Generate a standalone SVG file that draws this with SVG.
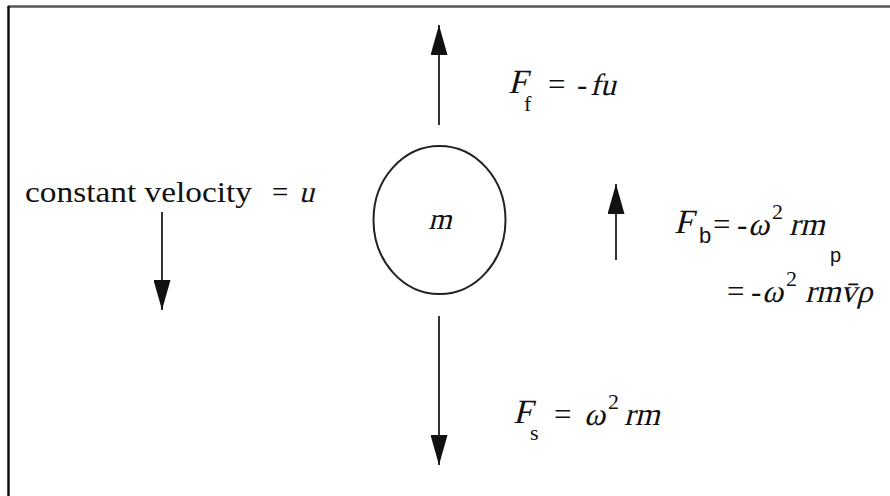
<svg xmlns="http://www.w3.org/2000/svg" width="890" height="496" viewBox="0 0 890 496">
<style>
  .t { font-family: "Liberation Serif", "Times New Roman", serif; fill: #111; }
  .sub { font-family: "Liberation Sans", Arial, sans-serif; fill: #111; }
  .ln { stroke: #333; stroke-width: 2; fill: none; }
</style>
<defs>
  <marker id="ah" markerUnits="userSpaceOnUse" viewBox="0 0 30 17" refX="30" refY="8.5" markerWidth="30" markerHeight="17" orient="auto">
    <path d="M0,0 L30,8.5 L0,17 Z" fill="#111"/>
  </marker>
</defs>
<rect width="890" height="496" fill="#fff"/>
<g id="frame">
  <line x1="8" y1="6.5" x2="890" y2="6.5" stroke="#555" stroke-width="2.5"/>
  <line x1="8.5" y1="6" x2="8.5" y2="496" stroke="#111" stroke-width="2.5"/>
</g>
<g id="mass">
  <ellipse cx="439.5" cy="220" rx="66" ry="74" fill="none" stroke="#222" stroke-width="2"/>
  <text class="t" transform="translate(440,229) skewX(-14)" font-size="30" text-anchor="middle">m</text>
</g>
<g id="connectors">
  <line class="ln" x1="439" y1="125" x2="439" y2="25" marker-end="url(#ah)"/>
  <line class="ln" x1="439" y1="316" x2="439" y2="465" marker-end="url(#ah)"/>
  <line class="ln" x1="616" y1="260" x2="616" y2="184" marker-end="url(#ah)"/>
  <line class="ln" x1="162" y1="212" x2="162" y2="310" marker-end="url(#ah)"/>
</g>
<g id="velocity">
  <text class="t" x="25" y="202" font-size="29" textLength="227" lengthAdjust="spacingAndGlyphs">constant velocity</text>
  <text class="t" x="272" y="202" font-size="29">=</text>
  <text class="t" transform="translate(299,202) skewX(-14)" font-size="30">u</text>
</g>
<g id="friction">
  <text class="t" transform="translate(508,93) skewX(-14)" font-size="34">F</text>
  <text class="t" x="524" y="111" font-size="22">f</text>
  <text class="t" x="548" y="95" font-size="31">=</text>
  <text class="t" x="577" y="95" font-size="31">-</text>
  <text class="t" transform="translate(590,95) skewX(-14)" font-size="31">fu</text>
</g>
<g id="buoyancy">
  <text class="t" transform="translate(674,233) skewX(-14)" font-size="34">F</text>
  <text class="sub" x="699" y="243" font-size="22">b</text>
  <text class="t" x="713" y="235" font-size="31">=</text>
  <text class="t" x="737" y="235" font-size="31">-</text>
  <text class="t" transform="translate(748,235) skewX(-14)" font-size="32">ω</text>
  <text class="t" x="772" y="219" font-size="22">2</text>
  <text class="t" transform="translate(789,235) skewX(-14)" font-size="32">rm</text>
  <text class="sub" x="830" y="262" font-size="20">p</text>
  <text class="t" x="727" y="302" font-size="31">=</text>
  <text class="t" x="751" y="302" font-size="31">-</text>
  <text class="t" transform="translate(762,302) skewX(-14)" font-size="32">ω</text>
  <text class="t" x="786" y="286" font-size="22">2</text>
  <text class="t" transform="translate(805,302) skewX(-14)" font-size="32">rm<tspan>v̄</tspan>ρ</text>
</g>
<g id="spring">
  <text class="t" transform="translate(513,423) skewX(-14)" font-size="34">F</text>
  <text class="t" x="530" y="440" font-size="22">s</text>
  <text class="t" x="554" y="425" font-size="31">=</text>
  <text class="t" transform="translate(584,425) skewX(-14)" font-size="32">ω</text>
  <text class="t" x="608" y="409" font-size="22">2</text>
  <text class="t" transform="translate(624,425) skewX(-14)" font-size="32">rm</text>
</g>
</svg>
